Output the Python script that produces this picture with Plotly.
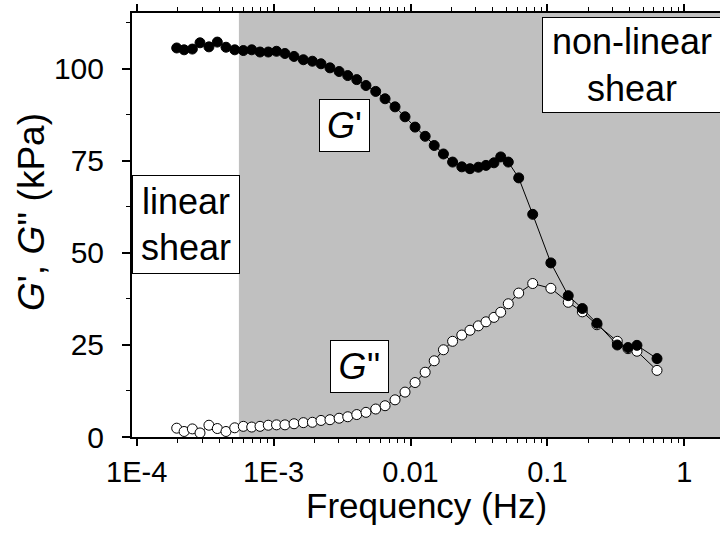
import math
import plotly.graph_objects as go

# Oscillatory frequency sweep: storage (G') and loss (G'') moduli
freq_hz = [1.96e-4, 2.22e-4, 2.55e-4, 2.90e-4, 3.37e-4, 3.88e-4, 4.49e-4, 5.20e-4,
           6.01e-4, 6.92e-4, 7.96e-4, 9.15e-4, 1.05e-3, 1.21e-3, 1.41e-3, 1.65e-3,
           1.92e-3, 2.22e-3, 2.58e-3, 3.01e-3, 3.48e-3, 4.05e-3, 4.73e-3, 5.57e-3,
           6.52e-3, 7.71e-3, 9.12e-3, 1.08e-2, 1.28e-2, 1.49e-2, 1.74e-2, 2.03e-2,
           2.37e-2, 2.72e-2, 3.13e-2, 3.56e-2, 4.07e-2, 4.56e-2, 5.18e-2, 6.17e-2,
           7.81e-2, 0.106, 0.142, 0.180, 0.230, 0.324, 0.388, 0.451, 0.632]

g_storage = [105.7, 105.2, 105.4, 107.1, 106.0, 107.3, 105.9, 105.2, 105.0, 105.2,
             104.6, 104.6, 104.8, 104.2, 103.4, 102.5, 102.1, 101.4, 100.3, 99.3,
             98.2, 97.1, 95.5, 93.9, 91.9, 89.7, 87.0, 84.2, 81.7, 79.2,
             76.9, 74.7, 73.4, 72.9, 73.3, 73.8, 74.5, 76.1, 74.7, 70.4,
             60.5, 47.3, 38.4, 34.9, 30.9, 25.0, 24.3, 24.9, 21.3]

g_loss = [2.4, 1.5, 2.2, 1.1, 3.2, 2.3, 1.5, 2.5, 2.9, 2.7,
          2.9, 3.2, 3.3, 3.3, 3.6, 3.9, 4.0, 4.5, 4.7, 5.1,
          5.5, 6.1, 6.7, 7.6, 8.5, 10.1, 12.2, 14.8, 17.6, 20.7,
          23.7, 26.0, 27.7, 29.0, 30.2, 31.3, 32.5, 33.9, 36.2, 39.1,
          41.7, 40.4, 36.6, 34.0, 30.5, 26.0, 24.0, 23.3, 18.1]

# Boundary between the linear and non-linear shear regimes (Hz)
linear_limit_hz = 5.58e-4

x_tickvals = [1e-4, 1e-3, 1e-2, 1e-1, 1]
x_ticktext = ["1E-4", "1E-3", "0.01", "0.1", "1"]
y_tickvals = [0, 25, 50, 75, 100]
y_minorvals = [12.5, 37.5, 62.5, 87.5, 112.5]

X_RANGE = [-4.0343, 0.2608]   # log10 units
Y_RANGE = [0, 115.2]

FONT = "Liberation Sans, Arial, sans-serif"

x_minorvals = [m * d for d in x_tickvals for m in range(2, 10)]

fig = go.Figure()

fig.add_trace(go.Scatter(
    x=freq_hz, y=g_loss, mode="lines+markers", name="G''",
    line=dict(color="black", width=1),
    marker=dict(symbol="circle", size=10, color="white",
                line=dict(color="black", width=1)),
))
fig.add_trace(go.Scatter(
    x=freq_hz, y=g_storage, mode="lines+markers", name="G'",
    line=dict(color="black", width=1),
    marker=dict(symbol="circle", size=10, color="black",
                line=dict(color="black", width=1)),
))

# shaded non-linear region, from the limit frequency to the right edge
x0_frac = (math.log10(linear_limit_hz) - X_RANGE[0]) / (X_RANGE[1] - X_RANGE[0])
fig.add_shape(type="rect", xref="paper", yref="paper",
              x0=x0_frac, x1=1, y0=0, y1=1,
              fillcolor="#c0c0c0", line=dict(width=0), layer="below")

L, R, T, B = 132, 0, 13, 103
W, H = 720, 540
PW, PH = W - L - R, H - T - B


def px(xp):
    return (xp - L) / PW


def py(yp):
    return (H - B - yp) / PH


def box(text, cx, cy, w, h, size=36):
    fig.add_annotation(
        text=text, xref="paper", yref="paper", x=px(cx), y=py(cy),
        xanchor="center", yanchor="middle", showarrow=False,
        width=w, height=h, align="center", valign="middle",
        bgcolor="white", bordercolor="black", borderwidth=1, borderpad=0,
        font=dict(family=FONT, size=size, color="black"),
    )


box("linear<br>shear", 186, 224.5, 106, 97)
box("non-linear<br>shear", 632, 65.3, 178, 94)
box("<i>G</i>'", 344.3, 125.4, 49, 51)
box("<i>G</i>''", 359.8, 366, 57, 51)

# axis titles
fig.add_annotation(text="Frequency (Hz)", xref="paper", yref="paper",
                   x=px(427), y=py(505), xanchor="center", yanchor="middle",
                   showarrow=False, font=dict(family=FONT, size=35, color="black"))
fig.add_annotation(text="<i>G</i>', <i>G</i>'' (kPa)", xref="paper", yref="paper",
                   x=px(31), y=py(212), xanchor="center", yanchor="middle",
                   textangle=-90, showarrow=False,
                   font=dict(family=FONT, size=37, color="black"))

fig.update_xaxes(
    type="log", range=X_RANGE, tickvals=x_tickvals, ticktext=x_ticktext,
    ticks="outside", ticklen=7, tickwidth=1.5, tickcolor="black",
    minor=dict(tickvals=x_minorvals, ticks="outside", ticklen=4,
               tickwidth=1, tickcolor="black", showgrid=False),
    showline=True, linecolor="black", linewidth=2, mirror="ticks",
    showgrid=False, zeroline=False, ticklabelstandoff=1, automargin=False,
    tickfont=dict(family=FONT, size=29, color="black"),
)
fig.update_yaxes(
    range=Y_RANGE, tickvals=y_tickvals,
    ticks="outside", ticklen=8, tickwidth=1.5, tickcolor="black",
    minor=dict(tickvals=y_minorvals, ticks="outside", ticklen=4,
               tickwidth=1, tickcolor="black", showgrid=False),
    showline=True, linecolor="black", linewidth=2, mirror="ticks",
    showgrid=False, zeroline=False, ticklabelstandoff=12, automargin=False,
    tickfont=dict(family=FONT, size=30, color="black"),
)

fig.update_layout(
    width=W, height=H, margin=dict(l=L, r=R, t=T, b=B, pad=0, autoexpand=False),
    paper_bgcolor="white", plot_bgcolor="white", showlegend=False,
)

fig.write_html("out.html")
